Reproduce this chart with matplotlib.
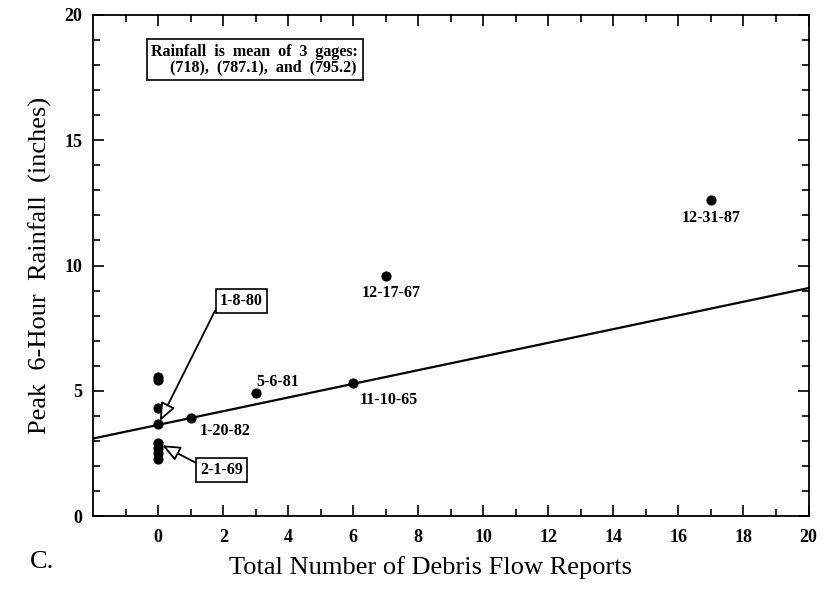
import numpy as np
import matplotlib.pyplot as plt
from matplotlib.ticker import MultipleLocator, FixedLocator

plt.rcParams['font.family'] = ['Liberation Serif', 'DejaVu Serif']

# debris flow reports vs peak 6-hour rainfall
reports = [0, 0, 0, 0, 0, 0, 0, 0, 1, 3, 6, 7, 17]
rainfall = [5.55, 5.45, 4.3, 3.67, 2.93, 2.73, 2.53, 2.27, 3.9, 4.9, 5.3, 9.6, 12.6]

# fitted line end points
line_x = [-2, 20]
line_y = [3.1, 9.1]

# plain date labels
date_text = ["1-20-82", "5-6-81", "11-10-65", "12-17-67", "12-31-87"]
date_x = [2.05, 3.68, 7.1, 7.15, 17.0]
date_y = [3.4, 5.35, 4.65, 8.9, 11.9]

# boxed labels with arrows
box_text = ["1-8-80", "2-1-69"]
box_xy = [(2.55, 8.6), (1.95, 1.85)]
box_rel = [(0.0, 0.45), (0.0, 0.8)]
arrow_to = [(0.05, 3.8), (0.12, 2.83)]

fig = plt.figure(figsize=(8.25, 5.9), dpi=100)
ax = fig.add_axes([0.113, 0.125, 0.867, 0.85])

ax.plot(line_x, line_y, color='black', lw=1.6)
ax.scatter(reports, rainfall, s=40, color='black', zorder=3)

for t, x, y in zip(date_text, date_x, date_y):
    ax.text(x, y, t, ha='center', va='center', fontsize=11.5, fontweight='bold')

for t, (x, y), rel, tip in zip(box_text, box_xy, box_rel, arrow_to):
    ax.annotate(t, xy=tip, xytext=(x, y), ha='center', va='center',
                fontsize=11.5, fontweight='bold',
                bbox=dict(boxstyle='square,pad=0.25', fc='white', ec='black', lw=1.2),
                arrowprops=dict(arrowstyle='-|>,head_length=0.95,head_width=0.4',
                                fc='white', ec='black', lw=1.3, relpos=rel,
                                shrinkA=0, shrinkB=0))

ax.text(2.97, 18.2, "Rainfall  is  mean  of  3  gages:\n    (718),  (787.1),  and  (795.2)",
        ha='center', va='center', fontsize=11.5, fontweight='semibold', linespacing=0.95,
        bbox=dict(boxstyle='square,pad=0.3', fc='white', ec='black', lw=1.2))

ax.set_xlim(-2, 20)
ax.set_ylim(0, 20)
ax.xaxis.set_major_locator(FixedLocator(np.arange(0, 21, 2)))
ax.xaxis.set_minor_locator(FixedLocator(np.arange(-1, 20, 2)))
ax.yaxis.set_major_locator(MultipleLocator(5))
ax.yaxis.set_minor_locator(MultipleLocator(1))
ax.tick_params(which='both', direction='in', top=True, right=True, width=1.2)
ax.tick_params(which='major', length=8)
ax.tick_params(which='minor', length=5)
ax.tick_params(axis='x', which='major', pad=9, labelsize=13)
ax.tick_params(axis='y', which='major', pad=8, labelsize=13)
for lab in ax.get_xticklabels() + ax.get_yticklabels():
    lab.set_fontweight('bold')
for s in ax.spines.values():
    s.set_linewidth(1.3)

ax.set_xlabel("Total Number of Debris Flow Reports", fontsize=19)
ax.xaxis.set_label_coords(0.471, -0.08)
ax.set_ylabel("Peak  6-Hour  Rainfall  (inches)", fontsize=19)
ax.yaxis.set_label_coords(-0.057, 0.5)
fig.text(0.036, 0.038, "C.", fontsize=19)

fig.savefig("out.png", dpi=100)
